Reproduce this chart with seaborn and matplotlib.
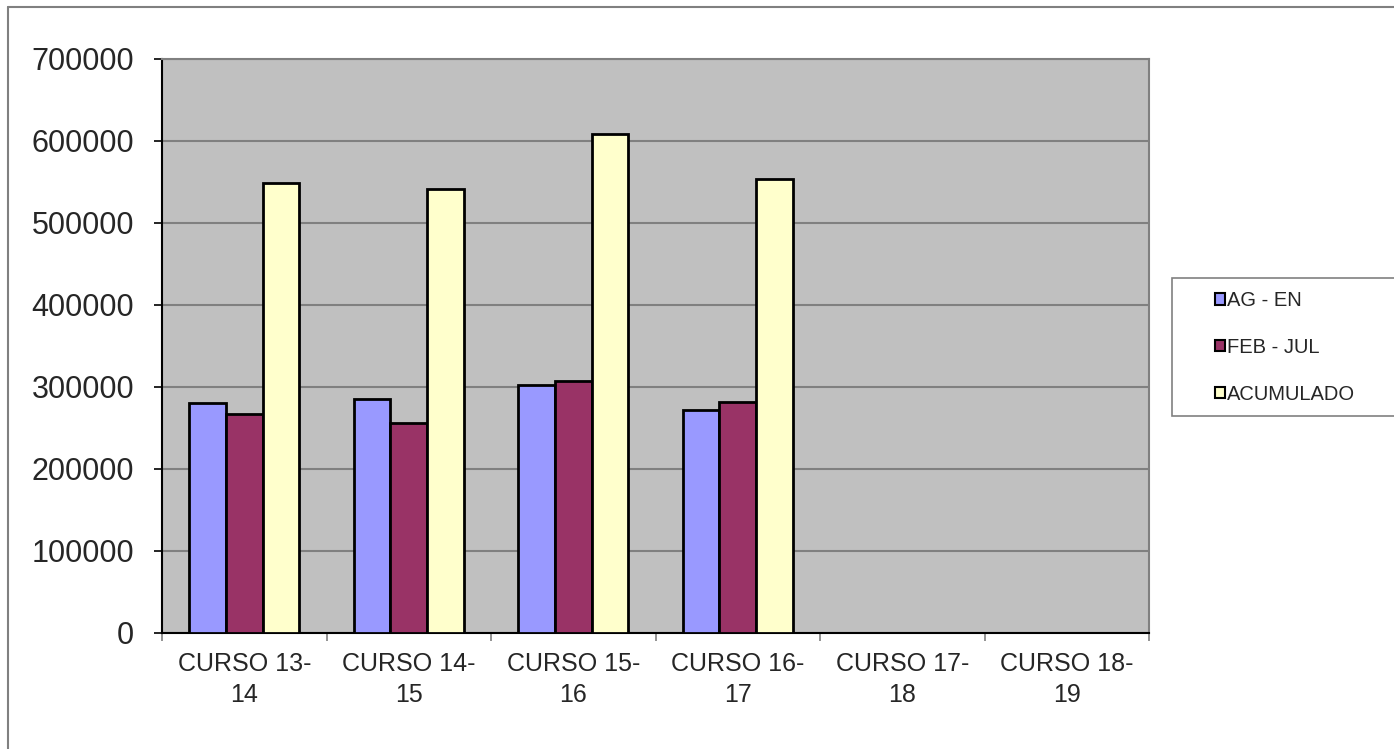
import matplotlib
matplotlib.use("Agg")
import matplotlib.pyplot as plt
from matplotlib.patches import Patch, Rectangle
import seaborn as sns
import pandas as pd
import numpy as np

cursos = ["CURSO 13-\n14", "CURSO 14-\n15", "CURSO 15-\n16", "CURSO 16-\n17",
          "CURSO 17-\n18", "CURSO 18-\n19"]
series = ["AG - EN", "FEB - JUL", "ACUMULADO"]
ag_en = [281000, 285000, 302000, 272000]
feb_jul = [267000, 256000, 307000, 282000]
acumulado = [549000, 541000, 608000, 554000]
colors = ["#9999FF", "#993366", "#FFFFCC"]
yticks = [0, 100000, 200000, 300000, 400000, 500000, 600000, 700000]

rows = []
for i, c in enumerate(cursos[:4]):
    rows.append((c, series[0], ag_en[i]))
    rows.append((c, series[1], feb_jul[i]))
    rows.append((c, series[2], acumulado[i]))
df = pd.DataFrame(rows, columns=["curso", "periodo", "valor"])

sns.set_theme(style="white")
plt.rcParams["font.family"] = ["Liberation Sans", "DejaVu Sans"]

W, H = 1394, 749
fig = plt.figure(figsize=(W / 100, H / 100), dpi=100)
fig.patch.set_facecolor("white")

# outer frame
fig.add_artist(plt.Line2D([8 / W, 1.0], [1 - 7 / H, 1 - 7 / H], color="#808080", lw=1.5, transform=fig.transFigure))
fig.add_artist(plt.Line2D([8 / W, 8 / W], [0, 1 - 7 / H], color="#808080", lw=1.5, transform=fig.transFigure))

ax = fig.add_axes([162 / W, (H - 633) / H, 987 / W, 574 / H])
ax.set_facecolor("#C0C0C0")

sns.barplot(data=df, x="curso", y="valor", hue="periodo", order=cursos,
            hue_order=series, palette=colors, width=0.67, gap=0,
            edgecolor="black", linewidth=2, saturation=1, errorbar=None,
            legend=False, ax=ax, zorder=3)

ax.set_xlim(-0.5, len(cursos) - 0.5)
ax.set_ylim(0, 700000)
ax.set_yticks(yticks)
ax.set_yticklabels([str(v) for v in yticks], fontsize=22)
ax.yaxis.grid(True, color="#808080", lw=1.5, zorder=0)
ax.set_axisbelow(True)
ax.set_xlabel("")
ax.set_ylabel("")

ax.set_xticks(range(len(cursos)))
ax.set_xticklabels(cursos, fontsize=18, linespacing=1.33)
ax.set_xticks(np.arange(-0.5, len(cursos), 1.0), minor=True)
ax.tick_params(axis="x", which="major", length=0, pad=14)
ax.tick_params(axis="x", which="minor", length=6, width=1.2, color="#808080", direction="out", bottom=True)
ax.tick_params(axis="y", which="major", length=6, width=1.2, color="black", left=True, pad=14)

for s in ["left", "bottom"]:
    ax.spines[s].set_color("black")
    ax.spines[s].set_linewidth(1.5)
for s in ["top", "right"]:
    ax.spines[s].set_color("#808080")
    ax.spines[s].set_linewidth(1.5)
    ax.spines[s].set_visible(True)

# legend box
fig.add_artist(Rectangle((1172 / W, 1 - 416 / H), (W - 1172) / W + 0.01, 138 / H,
                         transform=fig.transFigure, facecolor="white",
                         edgecolor="#808080", lw=1.2))
handles = [Patch(facecolor=colors[i], edgecolor="black", lw=1.5, label=series[i]) for i in range(3)]
leg = fig.legend(handles=handles, loc="upper left", bbox_to_anchor=(1209 / W, 1 - 285 / H),
                 frameon=False, fontsize=14.5, handlelength=0.5, handleheight=0.5,
                 handletextpad=0.1, labelspacing=1.38, borderaxespad=0, borderpad=0.3)

fig.savefig("out.png", dpi=100)
